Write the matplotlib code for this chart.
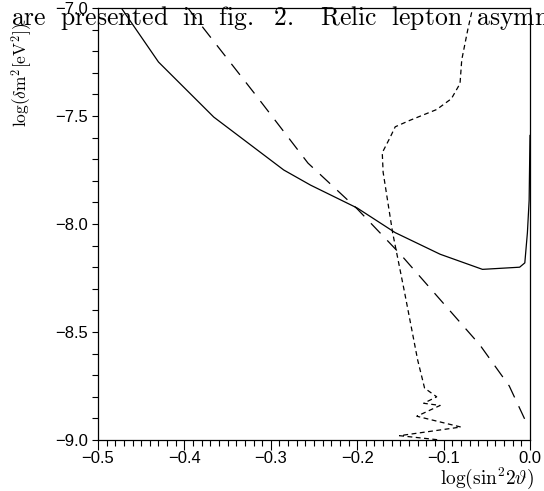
import matplotlib
matplotlib.use("Agg")
import matplotlib.pyplot as plt
from matplotlib.ticker import MultipleLocator

plt.rcParams["mathtext.fontset"] = "cm"
plt.rcParams["font.family"] = ["Liberation Sans", "DejaVu Sans"]
plt.rcParams["lines.scale_dashes"] = False

# solid curve
solid_x = [-0.473, -0.430, -0.366, -0.285, -0.254, -0.200, -0.156, -0.104,
           -0.055, -0.012, -0.006, -0.003, -0.001, 0.0]
solid_y = [-7.00, -7.25, -7.505, -7.75, -7.82, -7.926, -8.04, -8.14, -8.21,
           -8.20, -8.18, -8.04, -7.89, -7.59]

# long-dashed curve
dash_x = [-0.396, -0.378, -0.318, -0.257, -0.200, -0.150, -0.104, -0.058,
          -0.024, -0.003]
dash_y = [-7.00, -7.093, -7.40, -7.718, -7.93, -8.14, -8.35, -8.56, -8.75,
          -8.93]

# short-dashed curve
dot_x = [-0.0675, -0.072, -0.079, -0.081, -0.091, -0.108, -0.139, -0.156,
         -0.162, -0.171, -0.170, -0.159, -0.145, -0.130, -0.122, -0.108,
         -0.123, -0.104, -0.131, -0.080, -0.151, -0.104]
dot_y = [-7.02, -7.10, -7.24, -7.35, -7.42, -7.47, -7.52, -7.55, -7.60,
         -7.67, -7.76, -8.04, -8.32, -8.63, -8.76, -8.80, -8.83, -8.84,
         -8.89, -8.94, -8.98, -9.00]

fig = plt.figure(figsize=(5.44, 4.91), dpi=100)
ax = fig.add_axes([98 / 544, 51 / 491, 432 / 544, 432 / 491])

ax.plot(solid_x, solid_y, color="black", lw=0.9, ls="-")
ax.plot(dash_x, dash_y, color="black", lw=0.9, ls=(0, (10, 7)))
ax.plot(dot_x, dot_y, color="black", lw=0.9, ls=(0, (3.5, 2.5)))

ax.set_xlim(-0.5, 0.0)
ax.set_ylim(-9.0, -7.0)
ax.xaxis.set_major_locator(MultipleLocator(0.1))
ax.xaxis.set_minor_locator(MultipleLocator(0.01))
ax.yaxis.set_major_locator(MultipleLocator(0.5))
ax.yaxis.set_minor_locator(MultipleLocator(0.1))
fmt = plt.FuncFormatter(lambda v, p: f"{v:.1f}".replace("-", "\u2212"))
ax.xaxis.set_major_formatter(fmt)
ax.yaxis.set_major_formatter(fmt)
ax.tick_params(axis="x", which="major", direction="out", length=7, width=0.8,
               labelsize=12, pad=1)
ax.tick_params(axis="x", which="minor", direction="out", length=4, width=0.8)
ax.tick_params(axis="y", which="major", direction="out", length=4, width=0.8,
               labelsize=12, pad=3)
ax.tick_params(axis="y", which="minor", direction="out", length=4, width=0.8)
for s in ax.spines.values():
    s.set_linewidth(0.9)

fig.text(11 / 544, 1 - 25 / 491,
         r"$\mathrm{are\ \ presented\ \ in\ \ fig.\ \ 2.\ \ \ Relic\ \ lepton\ \ asymm}$",
         fontsize=18.5, ha="left", va="baseline")
fig.text(22 / 544, 1 - 75 / 491, r"$\mathrm{log}(\delta\mathrm{m}^2[\mathrm{eV}^2])$",
         rotation=90, fontsize=12.5, ha="center", va="center")
fig.text(487 / 544, 1 - 478 / 491, r"$\mathrm{log}(\mathrm{sin}^2 2\vartheta)$",
         fontsize=14, ha="center", va="center")

fig.savefig("out.png", dpi=100)
